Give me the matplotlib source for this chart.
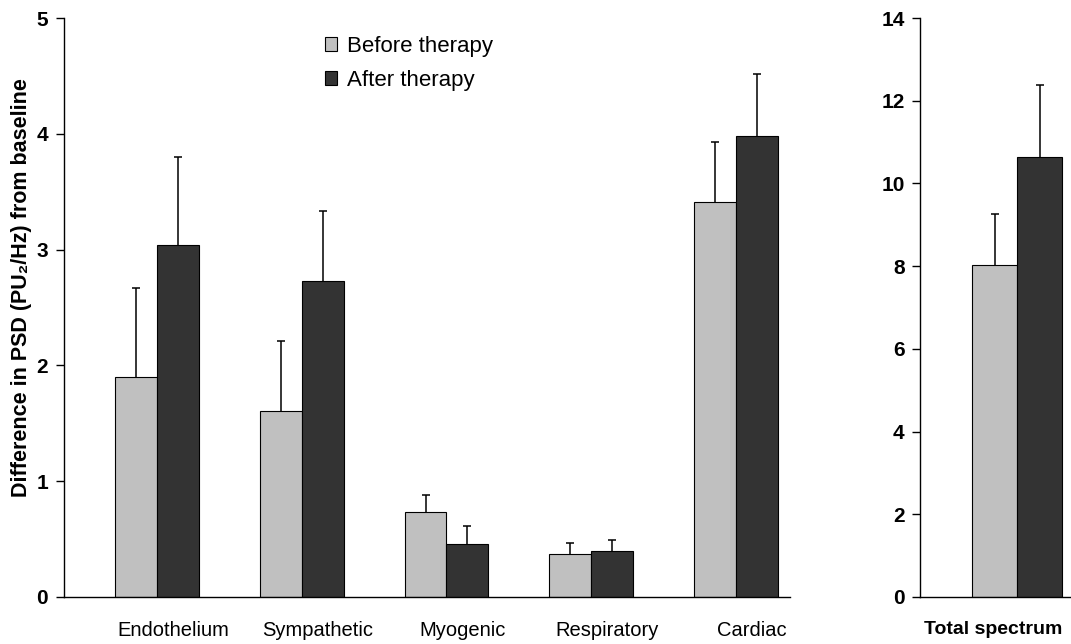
import numpy as np
import matplotlib
matplotlib.use("Agg")
from matplotlib import pyplot as plt

plt.rcParams['font.family'] = ['Liberation Sans', 'DejaVu Sans']

# values
bands = ["Endothelium", "Sympathetic", "Myogenic", "Respiratory", "Cardiac"]
before = [1.90, 1.61, 0.73, 0.37, 3.41]
before_err = [0.77, 0.60, 0.15, 0.10, 0.52]
after = [3.04, 2.73, 0.46, 0.40, 3.98]
after_err = [0.76, 0.60, 0.15, 0.09, 0.54]

total_label = ["Total spectrum"]
total_before = [8.02]
total_before_err = [1.25]
total_after = [10.64]
total_after_err = [1.74]

c_before = "#c0c0c0"
c_after = "#333333"
w = 0.29

fig = plt.figure(figsize=(10.71, 6.44), dpi=100)
ax = fig.add_axes([0.0593, 0.073, 0.6783, 0.899])
ax2 = fig.add_axes([0.859, 0.073, 0.141, 0.899])

err_kw = dict(ecolor="black", elinewidth=1.1, capsize=3, capthick=1.1)


def up_bars(a, xs, vals, errs, color, label=None):
    # bars with one-sided (upper) error bars only
    cont = a.bar(xs, vals, w, yerr=[np.zeros(len(vals)), errs], color=color,
                 edgecolor="black", linewidth=0.8, error_kw=err_kw, label=label)
    caps = cont.errorbar.lines[1]
    if len(caps) > 1:
        caps[0].set_visible(False)
    return cont


x = np.arange(len(bands))
up_bars(ax, x - w / 2, before, before_err, c_before, "Before therapy")
up_bars(ax, x + w / 2, after, after_err, c_after, "After therapy")

x2 = np.arange(len(total_label))
up_bars(ax2, x2 - w / 2, total_before, total_before_err, c_before)
up_bars(ax2, x2 + w / 2, total_after, total_after_err, c_after)

# axes styling
ax.set_xlim(-0.646, 4.373)
ax.set_ylim(0, 5)
ax.set_yticks(range(0, 6))
ax2.set_xlim(-0.626, 0.348)
ax2.set_ylim(0, 14)
ax2.set_yticks(range(0, 15, 2))

for a in (ax, ax2):
    a.spines["top"].set_visible(False)
    a.spines["right"].set_visible(False)
    a.spines["left"].set_linewidth(1.0)
    a.spines["bottom"].set_linewidth(1.0)
    a.tick_params(axis="y", length=6, width=1.0, pad=5, labelsize=15)
    a.tick_params(axis="x", length=0, pad=17)
    for t in a.get_yticklabels():
        t.set_fontweight("bold")

ax.set_xticks(x + 0.11)
ax.set_xticklabels(bands, fontsize=14.5)
ax2.set_xticks(x2 - 0.155)
ax2.set_xticklabels(total_label, fontsize=14, fontweight="bold")

ax.set_ylabel("Difference in PSD (PU\u2082/Hz) from baseline", fontsize=15.5, fontweight="bold")
ax.yaxis.set_label_coords(-0.044, 0.535)

ax.legend(loc="upper left", bbox_to_anchor=(325 / 1071, 1 - 36 / 644),
          bbox_transform=fig.transFigure, frameon=False, fontsize=16,
          handlelength=0.55, handleheight=0.55, handletextpad=0.45,
          labelspacing=0.58, borderpad=0, borderaxespad=0)

plt.savefig("out.png", dpi=100)
